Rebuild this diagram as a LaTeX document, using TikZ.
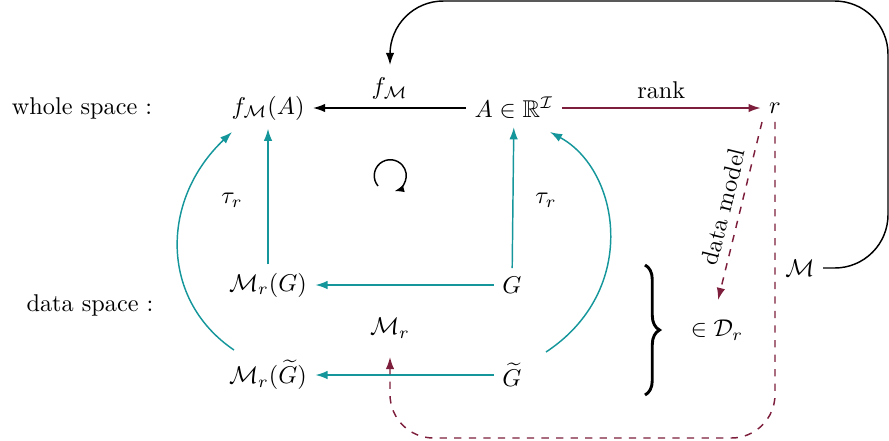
\documentclass[tikz,border=0pt]{standalone}
\usepackage{amsmath,amssymb}
\usetikzlibrary{arrows.meta,decorations.pathreplacing}
\definecolor{tl}{RGB}{20,150,155}
\definecolor{pr}{RGB}{125,30,60}
\begin{document}
\begin{tikzpicture}[x=0.0145cm,y=-0.0145cm,
  tar/.style={-{Latex[length=5pt,width=3.5pt]},tl,semithick},
  par/.style={-{Latex[length=5pt,width=3.5pt]},pr,semithick},
  bar/.style={-{Latex[length=5pt,width=3.5pt]},black,semithick},
  lbl/.style={}]
\useasboundingbox (0,0) rectangle (889,440);
\node[lbl] (ws) at (82,108) {whole space :};
\node[lbl] (ds) at (90,305) {data space :};
\node[lbl] (fA) at (268,108) {$f_{\mathcal M}(A)$};
\node[lbl] (A) at (514,108) {$A\in\mathbb{R}^{\mathcal I}$};
\node[lbl] (r) at (775,108) {$r$};
\node[lbl] (MG) at (268,285) {$\mathcal M_r(G)$};
\node[lbl] (G) at (512,285) {$G$};
\node[lbl] (Mr) at (390,328) {$\mathcal M_r$};
\node[lbl] (MGt) at (268,375) {$\mathcal M_r(\widetilde G)$};
\node[lbl] (Gt) at (512,375) {$\widetilde G$};
\node[lbl] (Dr) at (717,330) {$\in\mathcal D_r$};
\node[lbl] (M) at (800,268) {$\mathcal M$};
\node[lbl] (t1) at (232,200) {$\tau_r$};
\node[lbl] (t2) at (546,200) {$\tau_r$};
\draw[bar] (A) -- node[above,lbl] {$f_{\mathcal M}$} (fA);
\draw[par] (A) -- node[above,black,lbl] {rank} (r);
\draw[tar] (G) -- (MG);
\draw[tar] (Gt) -- (MGt);
\draw[tar] (MG) -- (fA);
\draw[tar] (G) -- (A);
\draw[tar] (234,350) .. controls (160,300) and (160,200) .. (232,132);
\draw[tar] (546,352) .. controls (640,290) and (620,170) .. (550,132);
\draw[line width=1.2pt,decorate,decoration={brace,amplitude=6pt}] (645,265) -- (645,395);
\draw[semithick,-{Latex[length=4pt,width=3pt]}] (378,186) arc[start angle=140,end angle=435,radius=16];
\draw[bar,rounded corners=22pt] (M.east) -- (888,268) -- (888,1) -- (390,1) -- (390,65);
\draw[par,dashed,rounded corners=18pt] (r.south) -- (775,438) -- (390,438) -- (390,357);
\draw[par,dashed] (762,122) -- node[above,sloped,black,lbl] {data model} (718,300);
\end{tikzpicture}
\end{document}
